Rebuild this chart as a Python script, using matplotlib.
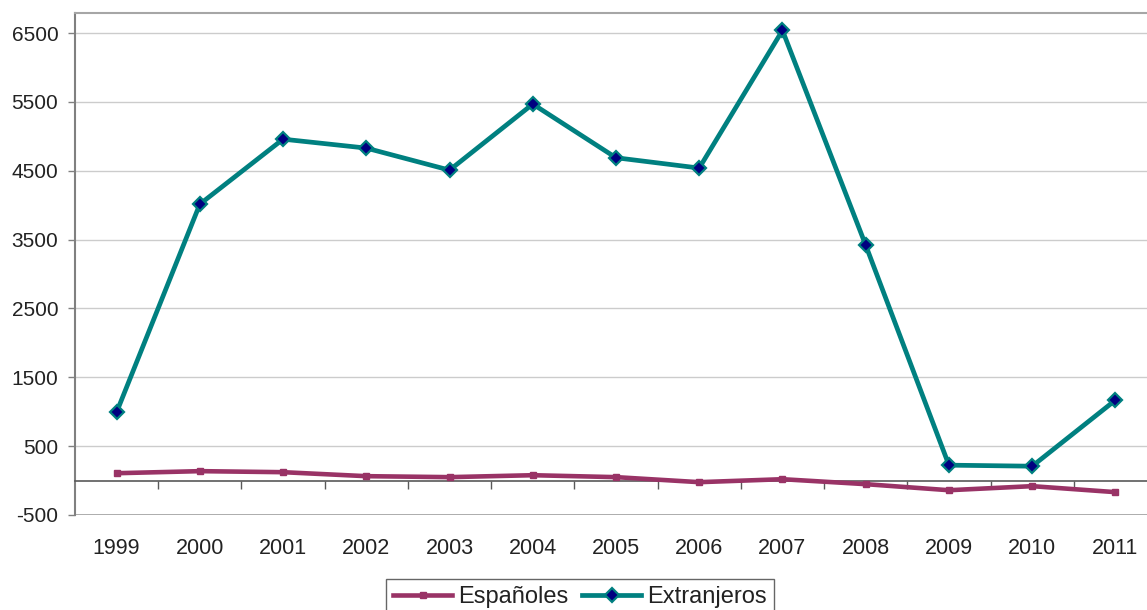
import matplotlib.pyplot as plt
import numpy as np

years = ["1999", "2000", "2001", "2002", "2003", "2004", "2005",
         "2006", "2007", "2008", "2009", "2010", "2011"]
espanoles = [107, 137, 122, 64, 50, 78, 50, -23, 20, -52, -140, -81, -168]
extranjeros = [994, 4016, 4960, 4830, 4510, 5470, 4690,
               4540, 6540, 3420, 224, 209, 1168]
y_ticks = [-500, 500, 1500, 2500, 3500, 4500, 5500, 6500]

plt.rcParams['font.family'] = ['Liberation Sans', 'DejaVu Sans']
txt_color = "#222222"

fig = plt.figure(figsize=(11.47, 6.10), dpi=100)
# axes run past the right edge of the figure, as in the original crop
ax = fig.add_axes([75 / 1147, 95 / 610, 1082 / 1147, 502.5 / 610])

x = np.arange(len(years))
ax.plot(x, espanoles, color="#993366", lw=3.3, marker="s", markersize=4.5,
        label="Españoles", zorder=3)
ax.plot(x, extranjeros, color="#008080", lw=3.4, marker="D", markersize=7.5,
        markerfacecolor="#000080", markeredgecolor="#008080", markeredgewidth=1.6,
        label="Extranjeros", zorder=4)

ax.set_xlim(-0.5, len(years) - 0.5)
ax.set_ylim(-500, 6800)

ax.set_yticks(y_ticks)
ax.set_yticklabels([str(v) for v in y_ticks])
ax.tick_params(axis="y", length=5, width=1, color="#808080", pad=7,
               labelsize=15, labelcolor=txt_color)
ax.grid(axis="y", color="#cccccc", lw=1)
ax.set_axisbelow(True)

# bottom spine moved to zero, ticks between categories
ax.spines["bottom"].set_position(("data", 0))
ax.spines["bottom"].set_color("#595959")
ax.spines["bottom"].set_linewidth(1.2)
ax.set_xticks(np.arange(0.5, len(years) - 1, 1.0))
ax.set_xticklabels([])
ax.tick_params(axis="x", which="major", length=6, width=1, color="#595959",
               direction="out")
ax.set_xticks(x, minor=True)
ax.set_xticklabels(years, minor=True)
ax.tick_params(axis="x", which="minor", length=0, pad=41, labelsize=15.5,
               labelcolor=txt_color)

ax.axhline(-500, color="#a6a6a6", lw=2, zorder=1)
ax.spines["left"].set_color("#808080")
ax.spines["left"].set_linewidth(1.5)
ax.spines["top"].set_color("#a6a6a6")
ax.spines["top"].set_linewidth(1.5)
ax.spines["right"].set_visible(False)

leg = fig.legend(loc="upper center", bbox_to_anchor=(580 / 1147, 1 - 579 / 610),
                 ncol=2, fontsize=17, frameon=True, fancybox=False,
                 edgecolor="#404040", handlelength=2.5, handletextpad=0.25,
                 columnspacing=0.6, borderpad=0.3, borderaxespad=0)
leg.get_frame().set_linewidth(1)
for t in leg.get_texts():
    t.set_color(txt_color)

plt.savefig("out.png", dpi=100)
